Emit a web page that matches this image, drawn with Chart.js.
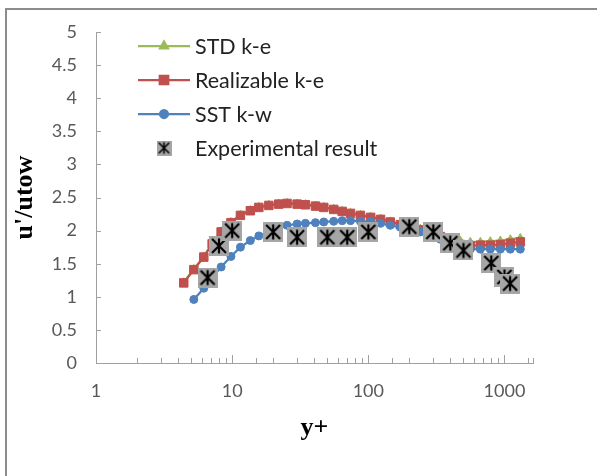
<!DOCTYPE html>
<html>
<head>
<meta charset="utf-8">
<script src="https://cdn.jsdelivr.net/npm/chart.js@4.4.1/dist/chart.umd.min.js"></script>
<style>
  html, body { margin: 0; padding: 0; background: #fff; }
  #wrap { position: relative; width: 597px; height: 476px; }
  #frame { position: absolute; left: 5px; top: 8px; right: 0; bottom: 0;
           border-top: 2px solid #8c8c8c; border-left: 2px solid #8c8c8c; pointer-events: none; }
  canvas { position: absolute; left: 0; top: 0; }
</style>
</head>
<body>
<div id="wrap">
  <canvas id="c" width="597" height="476"></canvas>
  <div id="frame"></div>
</div>
<script>
// ----- data -----
const yPlus = [4.41, 5.23, 6.19, 7.13, 8.30, 9.80, 11.5, 13.6, 15.7, 18.6,
               22.0, 25.3, 30.0, 34.5, 40.9, 47.1, 55.7, 64.3, 74.0, 87.5,
               104, 123, 145, 172, 204, 241, 286, 338, 400, 474,
               561, 665, 787, 933, 1104, 1307];
const stdKe = [1.22, 1.42, 1.61, 1.81, 1.99, 2.13, 2.24, 2.31, 2.36, 2.39,
               2.41, 2.42, 2.41, 2.40, 2.38, 2.36, 2.33, 2.30, 2.27, 2.24,
               2.21, 2.18, 2.14, 2.10, 2.07, 2.03, 1.98, 1.93, 1.89, 1.85,
               1.83, 1.83, 1.84, 1.85, 1.87, 1.89];
const realKe = [1.21, 1.41, 1.60, 1.80, 1.98, 2.12, 2.23, 2.30, 2.35, 2.38,
                2.40, 2.41, 2.40, 2.39, 2.37, 2.35, 2.32, 2.29, 2.26, 2.23,
                2.20, 2.17, 2.13, 2.09, 2.05, 2.01, 1.96, 1.91, 1.86, 1.79,
                1.77, 1.78, 1.78, 1.79, 1.81, 1.83];
const sstKw = [null, 0.96, 1.13, 1.29, 1.45, 1.61, 1.75, 1.85, 1.92, 1.99,
               2.04, 2.08, 2.10, 2.11, 2.12, 2.13, 2.14, 2.15, 2.15, 2.14,
               2.14, 2.11, 2.08, 2.05, 2.02, 1.98, 1.93, 1.87, 1.80, 1.74,
               1.72, 1.72, 1.72, 1.72, 1.72, 1.72];
const expX = [6.6, 8, 10, 20, 30, 50, 70, 100, 200, 300, 400, 500, 800, 1000, 1100];
const expY = [1.29, 1.77, 2.0, 1.98, 1.90, 1.90, 1.90, 1.98, 2.06, 1.98, 1.81, 1.70, 1.51, 1.30, 1.20];
const xTickLabels = [1, 10, 100, 1000];

const pts = (xs, ys) => xs.map((x, i) => ({ x, y: ys[i] })).filter(p => p.y !== null);

// 実験値マーカー：灰色の四角に黒いアスタリスク
function expMarker(size) {
  const cv = document.createElement('canvas');
  cv.width = size; cv.height = size;
  const g = cv.getContext('2d');
  g.fillStyle = '#a6a6a6';
  g.fillRect(0, 0, size, size);
  g.strokeStyle = '#000';
  g.lineWidth = size > 16 ? 2.2 : 1.6;
  const m = size * 0.15, h = size / 2;
  g.beginPath();
  g.moveTo(h, m * 0.8); g.lineTo(h, size - m * 0.8);
  g.moveTo(m, m); g.lineTo(size - m, size - m);
  g.moveTo(size - m, m); g.lineTo(m, size - m);
  g.stroke();
  return cv;
}
const expBig = expMarker(20);
const expSmall = expMarker(15);

const TICK_FONT = { family: 'Lato', size: 18 };
const TICK_COLOR = '#595959';
const AXIS_COLOR = '#a0a0a0';
const TITLE_FONT = { family: 'Liberation Serif', size: 26, weight: 'bold' };

// 内向きの目盛り線
const innerTicks = {
  id: 'innerTicks',
  afterDraw(chart) {
    const { ctx, chartArea: a, scales: { x, y } } = chart;
    ctx.save();
    ctx.strokeStyle = AXIS_COLOR;
    ctx.lineWidth = 1;
    ctx.beginPath();
    y.ticks.forEach(t => {
      const py = Math.round(y.getPixelForValue(t.value)) + 0.5;
      ctx.moveTo(a.left, py); ctx.lineTo(a.left + 5, py);
    });
    x.ticks.forEach(t => {
      const lg = Math.log10(t.value);
      const major = Math.abs(lg - Math.round(lg)) < 1e-9;
      const px = Math.round(x.getPixelForValue(t.value)) + 0.5;
      ctx.moveTo(px, a.bottom); ctx.lineTo(px, a.bottom - (major ? 8 : 5));
    });
    ctx.stroke();
    ctx.restore();
  }
};

// 凡例（プロット内左上）
const LEG_ROWS = [46, 80, 114, 148];
const legendBox = {
  id: 'legendBox',
  afterDraw(chart) {
    const ctx = chart.ctx;
    chart.data.datasets.forEach((ds, i) => {
      const yy = LEG_ROWS[i];
      ctx.save();
      if (ds.showLine) {
        ctx.strokeStyle = ds.borderColor;
        ctx.lineWidth = ds.borderWidth;
        ctx.beginPath(); ctx.moveTo(138, yy); ctx.lineTo(190, yy); ctx.stroke();
        ctx.fillStyle = ds.pointBackgroundColor;
        ctx.strokeStyle = ds.pointBorderColor;
        Chart.helpers.drawPoint(ctx, { pointStyle: ds.pointStyle, radius: ds.pointRadius, rotation: 0, borderWidth: 1 }, 164, yy);
      } else {
        ctx.drawImage(expSmall, 164 - 7.5, yy - 7.5);
      }
      ctx.fillStyle = '#222';
      ctx.font = '21.5px Lato';
      ctx.textBaseline = 'middle';
      ctx.fillText(ds.label, 195, yy + 1);
      ctx.restore();
    });
  }
};

const lineSet = (label, ys, color, style, r, order) => ({
  label, data: pts(yPlus, ys), showLine: true,
  borderColor: color, borderWidth: 2.25,
  pointStyle: style, pointRadius: r, pointHoverRadius: r,
  pointBackgroundColor: color, pointBorderColor: color, pointBorderWidth: 1,
  order
});

new Chart(document.getElementById('c'), {
  type: 'scatter',
  data: {
    datasets: [
      lineSet('STD k-e', stdKe, '#9bbb59', 'triangle', 4.5, 4),
      lineSet('Realizable k-e', realKe, '#c0504d', 'rect', 6, 3),
      lineSet('SST k-w', sstKw, '#4f81bd', 'circle', 4, 2),
      { label: 'Experimental result', data: pts(expX, expY), showLine: false,
        pointStyle: expBig, pointRadius: 10, order: 1 }
    ]
  },
  options: {
    responsive: false,
    animation: false,
    events: [],
    layout: { padding: { left: 0, right: 64, top: 32, bottom: 0 } },
    plugins: { legend: { display: false }, tooltip: { enabled: false } },
    scales: {
      x: {
        type: 'logarithmic', min: 1, max: 1620,
        grid: { display: true, drawOnChartArea: false, drawTicks: false },
        border: { display: true, color: AXIS_COLOR, width: 1 },
        afterFit: s => { s.height = 113; },
        ticks: {
          autoSkip: false, maxRotation: 0, padding: 17,
          font: TICK_FONT, color: TICK_COLOR,
          callback: v => xTickLabels.includes(v) ? String(v) : ''
        },
        title: { display: true, text: 'y+', color: '#000', font: TITLE_FONT,
                 padding: { top: 0, bottom: 32 } }
      },
      y: {
        min: 0, max: 5,
        grid: { display: true, drawOnChartArea: false, drawTicks: false },
        border: { display: true, color: AXIS_COLOR, width: 1 },
        afterFit: s => { s.width = 96; },
        ticks: { stepSize: 0.5, padding: 19, font: TICK_FONT, color: TICK_COLOR,
                 callback: v => String(+v.toFixed(1)) },
        title: { display: true, text: "u'/utow", color: '#000', font: TITLE_FONT,
                 padding: { top: 10, bottom: 0 } }
      }
    }
  },
  plugins: [innerTicks, legendBox]
});
</script>
</body>
</html>
